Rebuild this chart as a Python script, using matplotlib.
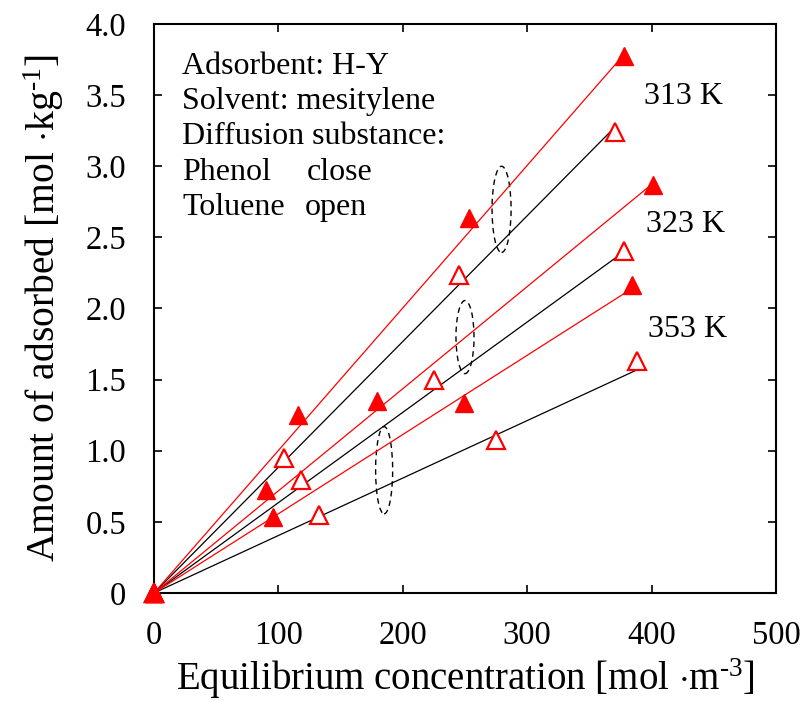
import numpy as np
import matplotlib.pyplot as plt
from matplotlib.patches import Ellipse

plt.rcParams['font.family'] = 'Liberation Serif'
plt.rcParams['mathtext.fontset'] = 'custom'
plt.rcParams['mathtext.rm'] = 'Liberation Serif'
plt.rcParams['mathtext.it'] = 'Liberation Serif:italic'

'''
Data: adsorption isotherms on H-Y in mesitylene
'''
temps = ['313 K', '323 K', '353 K']

# phenol (filled symbols)
phenol_x = [[0, 115.4, 253.2, 377.7],
            [0, 90.1, 179.0, 401.0],
            [0, 95.4, 249.2, 383.9]]
phenol_y = [[0, 1.249, 2.639, 3.772],
            [0, 0.723, 1.352, 2.871],
            [0, 0.537, 1.333, 2.162]]

# toluene (open symbols)
toluene_x = [[0, 104.6, 245.2, 370.2],
             [0, 118.5, 224.7, 378.0],
             [0, 133.0, 275.0, 388.4]]
toluene_y = [[0, 0.949, 2.235, 3.242],
             [0, 0.793, 1.498, 2.404],
             [0, 0.547, 1.077, 1.629]]

# slopes of the linear fits (through origin)
phenol_slope = [0.01002, 0.00718, 0.00557]
toluene_slope = [0.00884, 0.00635, 0.00404]

xticks = [0, 100, 200, 300, 400, 500]
yticks = [0, 0.5, 1.0, 1.5, 2.0, 2.5, 3.0, 3.5, 4.0]
yticklabels = ['0', '0.5', '1.0', '1.5', '2.0', '2.5', '3.0', '3.5', '4.0']

'''
Plot
'''
fig = plt.figure(figsize=(8, 7.02), dpi=100)
ax = fig.add_axes([0.1925, 0.1553, 0.7775, 0.8105])

for i in range(3):
    xs = np.array([0, toluene_x[i][-1]])
    ax.plot(xs, toluene_slope[i] * xs, color='black', lw=0.9)
    xs = np.array([0, phenol_x[i][-1]])
    ax.plot(xs, phenol_slope[i] * xs, color='red', lw=0.9)

for i in range(3):
    ax.plot(toluene_x[i], toluene_y[i], ls='none', marker='^', ms=13,
            mfc='white', mec='red', mew=1.6, clip_on=False, zorder=3)
    ax.plot(phenol_x[i], phenol_y[i], ls='none', marker='^', ms=13,
            mfc='red', mec='red', mew=1, clip_on=False, zorder=4)

# dashed ellipses grouping each temperature
for cx, cy, w, h in [(279.4, 2.697, 15.3, 0.606),
                     (250.0, 1.799, 14.5, 0.514),
                     (185.0, 0.863, 13.7, 0.613)]:
    ax.add_patch(Ellipse((cx, cy), w, h, fill=False, ec='black', lw=1.0,
                         ls=(0, (4, 3))))

# temperature labels
for t, (tx, ty) in zip(temps, [(393.5, 3.437), (395.2, 2.535), (396.8, 1.803)]):
    ax.text(tx, ty, t, fontsize=23, va='baseline')

# condition notes
ax.text(22.6, 3.648, 'Adsorbent: H-Y', fontsize=23, va='baseline')
ax.text(22.6, 3.401, 'Solvent: mesitylene', fontsize=23, va='baseline')
ax.text(22.6, 3.155, 'Diffusion substance:', fontsize=23, va='baseline')
ax.text(22.6, 2.901, 'Phenol', fontsize=23, va='baseline')
ax.text(122.5, 2.901, 'close', fontsize=23, va='baseline')
ax.text(22.6, 2.655, 'Toluene', fontsize=23, va='baseline')
ax.text(121.0, 2.655, 'open', fontsize=23, va='baseline')

ax.set_xlim(0, 500)
ax.set_ylim(0, 4.0)
ax.set_xticks(xticks)
ax.set_yticks(yticks)
ax.set_yticklabels(yticklabels)
ax.tick_params(direction='in', length=6, width=1.2, labelsize=23.5,
               top=True, right=True)
ax.tick_params(axis='x', pad=20)
ax.tick_params(axis='y', pad=20)
for s in ax.spines.values():
    s.set_linewidth(1.5)

ax.set_xlabel(r'Equilibrium concentration [mol $\cdot$m$^{\text{-}3}$]', fontsize=28, labelpad=4)
ax.set_ylabel(r'Amount of adsorbed [mol $\cdot$kg$^{\text{-}1}$]', fontsize=28.5, labelpad=14)

plt.savefig('out.png', dpi=100)
